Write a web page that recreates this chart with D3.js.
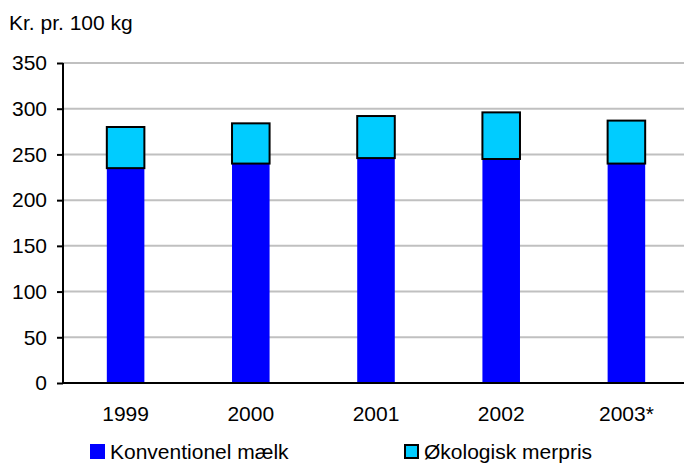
<!DOCTYPE html>
<html><head><meta charset="utf-8">
<script src="https://cdn.jsdelivr.net/npm/d3@7"></script>
<style>body{margin:0;background:#fff}svg{display:block;font-family:"Liberation Sans",Arial,sans-serif}</style>
</head><body>
<svg id="c" width="684" height="464"></svg>
<script>
const years = ["1999","2000","2001","2002","2003*"];
const konventionel = [235, 240, 246, 245, 240];
const merpris = [45, 44, 46, 51, 47];
const yTicks = [0,50,100,150,200,250,300,350];
const seriesNames = ["Konventionel mælk","Økologisk merpris"];

const FS = 21;
const svg = d3.select("#c");
const pL = 63, pR = 689, pT = 63, pB = 383;
const x = d3.scaleBand().domain(years).range([pL, pR]).paddingInner(0.7).paddingOuter(0.35);
const y = d3.scaleLinear().domain([0,350]).range([pB, pT]);

// gridlines
svg.append("g").selectAll("line").data(yTicks.filter(d=>d>0)).join("line")
  .attr("x1", pL).attr("x2", 684).attr("y1", d=>y(d)).attr("y2", d=>y(d))
  .attr("stroke", "#c0c0c0").attr("stroke-width", 2);

// bars
const data = years.map((yr,i)=>({yr, k: konventionel[i], m: merpris[i]}));
svg.append("g").selectAll("rect").data(data).join("rect")
  .attr("x", d=>x(d.yr)).attr("width", x.bandwidth())
  .attr("y", d=>y(d.k)).attr("height", d=>y(0)-y(d.k))
  .attr("fill", "#0000ff");
svg.append("g").selectAll("rect").data(data).join("rect")
  .attr("x", d=>x(d.yr)).attr("width", x.bandwidth())
  .attr("y", d=>y(d.k+d.m)).attr("height", d=>y(d.k)-y(d.k+d.m))
  .attr("fill", "#00ccff").attr("stroke", "#000").attr("stroke-width", 2);

// y axis
const ya = svg.append("g").attr("transform", `translate(${pL},0)`)
  .call(d3.axisLeft(y).tickValues(yTicks).tickSize(6).tickPadding(10));
ya.select(".domain").attr("stroke", "#000").attr("stroke-width", 2).attr("d", `M0,${pT}V${pB}`);
ya.selectAll(".tick line").attr("stroke", "#000").attr("stroke-width", 2);
ya.selectAll("text").attr("font-size", FS).attr("fill", "#000").attr("font-family", "Liberation Sans, Arial, sans-serif");

// x axis
const xa = svg.append("g").attr("transform", `translate(0,${pB})`)
  .call(d3.axisBottom(x).tickSize(0).tickPadding(23));
xa.select(".domain").attr("stroke", "#000").attr("stroke-width", 2).attr("d", `M${pL},0H684`);
xa.selectAll("text").attr("font-size", FS).attr("fill", "#000").attr("font-family", "Liberation Sans, Arial, sans-serif");

// y title
svg.append("text").attr("x", 9).attr("y", 30).attr("font-size", FS).text("Kr. pr. 100 kg");

// legend
const lg = [{name: seriesNames[0], x: 90, fill: "#0000ff", stroke: "none"},
            {name: seriesNames[1], x: 404, fill: "#00ccff", stroke: "#000"}];
const lgg = svg.append("g").selectAll("g").data(lg).join("g").attr("transform", d=>`translate(${d.x},444)`);
lgg.append("rect").attr("x", d=>d.stroke==="none"?0:1).attr("y", d=>d.stroke==="none"?0:1)
  .attr("width", d=>d.stroke==="none"?15:13).attr("height", d=>d.stroke==="none"?15:13)
  .attr("fill", d=>d.fill).attr("stroke", d=>d.stroke).attr("stroke-width", 2);
lgg.append("text").attr("x", 20).attr("y", 15).attr("font-size", FS).text(d=>d.name);
</script>
</body></html>
